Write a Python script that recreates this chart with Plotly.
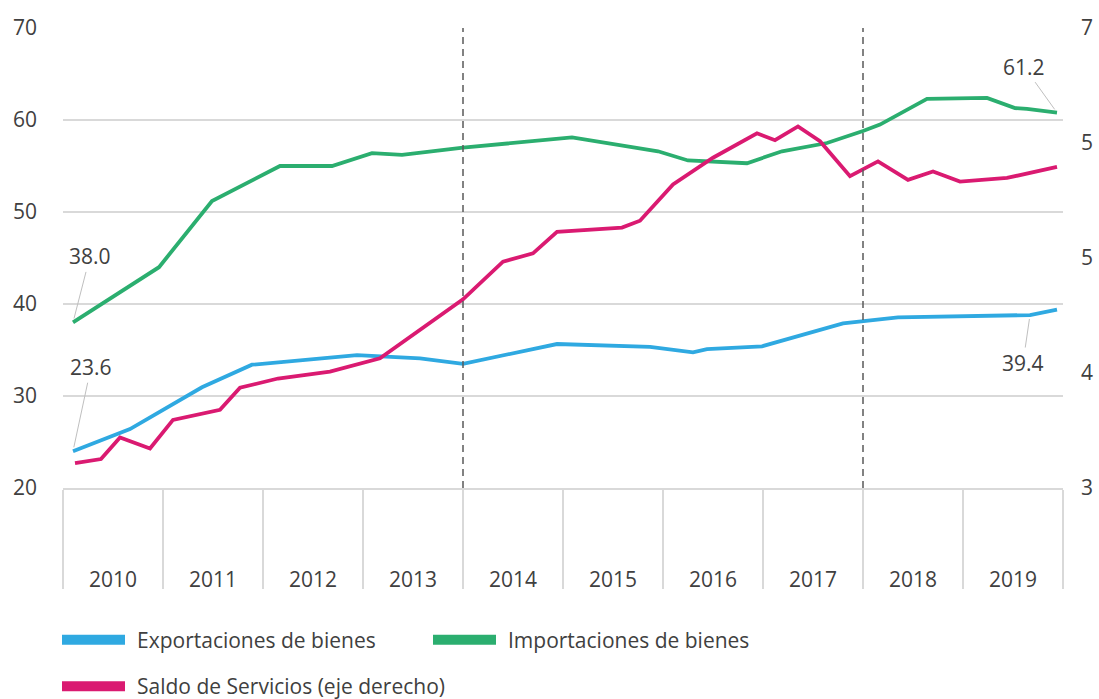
import plotly.graph_objects as go

# ---- data (x as fractional year) ----
imp_x = [2010.10, 2010.96, 2011.49, 2012.17, 2012.69, 2013.09, 2013.39, 2014.00, 2015.09, 2015.95,
         2016.25, 2016.84, 2017.19, 2017.64, 2018.00, 2018.17, 2018.64, 2019.24, 2019.52, 2019.64, 2019.94]
imp_y = [38.0, 44.0, 51.2, 55.0, 55.0, 56.4, 56.2, 57.0, 58.1, 56.6,
         55.6, 55.3, 56.6, 57.5, 58.8, 59.5, 62.3, 62.4, 61.3, 61.2, 60.8]

exp_x = [2010.10, 2010.67, 2011.39, 2011.89, 2012.94, 2013.57, 2014.00, 2014.94, 2015.87, 2016.30,
         2016.44, 2016.99, 2017.80, 2018.35, 2019.67, 2019.94]
exp_y = [24.0, 26.4, 30.95, 33.4, 34.45, 34.1, 33.5, 35.65, 35.35, 34.75,
         35.1, 35.4, 37.9, 38.55, 38.8, 39.4]

serv_x = [2010.12, 2010.38, 2010.57, 2010.87, 2011.10, 2011.57, 2011.77, 2012.15, 2012.67, 2013.17,
          2014.00, 2014.40, 2014.70, 2014.94, 2015.59, 2015.77, 2016.10, 2016.50, 2016.94, 2017.12,
          2017.35, 2017.57, 2017.87, 2018.15, 2018.45, 2018.70, 2018.97, 2019.44, 2019.94]
serv_y = [3.216, 3.252, 3.44, 3.344, 3.592, 3.68, 3.872, 3.952, 4.012, 4.128,
          4.64, 4.968, 5.04, 5.228, 5.264, 5.324, 5.64, 5.872, 6.084, 6.024,
          6.144, 6.016, 5.712, 5.84, 5.68, 5.752, 5.664, 5.696, 5.792]

years = [2010, 2011, 2012, 2013, 2014, 2015, 2016, 2017, 2018, 2019]
period_marks = [2014, 2018]

left_ticks = [20, 30, 40, 50, 60, 70]
right_ticks = [3, 4, 5, 6, 7]
right_ticktext = ["3", "4", "5", "5", "7"]

names = ["Exportaciones de bienes", "Importaciones de bienes", "Saldo de Servicios (eje derecho)"]
colors = ["#2FA9E1", "#2BAE6F", "#DA1A71"]

TXT = "#404040"
FONT = "Open Sans"
GRID = "#D9D9D9"
FS = 21

fig = go.Figure()
fig.add_trace(go.Scatter(x=exp_x, y=exp_y, mode="lines", name=names[0],
                         line=dict(color=colors[0], width=3.8), showlegend=False))
fig.add_trace(go.Scatter(x=imp_x, y=imp_y, mode="lines", name=names[1],
                         line=dict(color=colors[1], width=3.8), showlegend=False))
fig.add_trace(go.Scatter(x=serv_x, y=serv_y, mode="lines", name=names[2], yaxis="y2",
                         line=dict(color=colors[2], width=3.8), showlegend=False))

for yr in period_marks:
    fig.add_shape(type="line", x0=yr, x1=yr, xref="x", y0=0, y1=1, yref="paper",
                  line=dict(color="#595959", width=1.5, dash="7px,5px"), layer="above")

# data labels
labels = [
    (imp_x[0], imp_y[0], "38.0", 17, -66),
    (exp_x[0], exp_y[0], "23.6", 18, -84),
    (imp_x[-1], imp_y[-1], "61.2", -33, -46),
    (exp_x[-2], exp_y[-2], "39.4", -7, 48),
]
for x, y, t, ax, ay in labels:
    fig.add_annotation(x=x, y=y, xref="x", yref="y", text=t, showarrow=True, arrowhead=0,
                       arrowwidth=1, arrowcolor="#BFBFBF", ax=ax, ay=ay, standoff=4,
                       font=dict(family=FONT, size=FS, color=TXT))

# custom legend
leg = [(0, -0.001, -0.330), (1, 0.370, -0.330), (2, -0.001, -0.431)]
for i, lx, ly in leg:
    fig.add_shape(type="line", xref="paper", yref="paper", x0=lx, x1=lx + 0.063, y0=ly, y1=ly,
                  line=dict(color=colors[i], width=10))
    fig.add_annotation(xref="paper", yref="paper", x=lx + 0.073, y=ly, text=names[i],
                       showarrow=False, xanchor="left", yanchor="middle",
                       font=dict(family=FONT, size=FS, color=TXT))

fig.update_layout(
    width=1099, height=699,
    margin=dict(l=63, r=36, t=28, b=211),
    plot_bgcolor="white", paper_bgcolor="white",
    font=dict(family=FONT, size=FS, color=TXT),
    showlegend=False,
    xaxis=dict(range=[2010, 2020], showgrid=False, zeroline=False, automargin=False,
               showline=True, linecolor=GRID, linewidth=1.5,
               tickmode="array", tickvals=[y + 0.5 for y in years], ticktext=[str(y) for y in years],
               ticks="", ticklabelstandoff=72,
               minor=dict(tickmode="array", tickvals=years + [2020], ticks="outside",
                          ticklen=99, tickcolor=GRID, tickwidth=1.5, showgrid=False),
               tickfont=dict(family=FONT, size=FS, color=TXT)),
    yaxis=dict(range=[20, 70], tickvals=left_ticks, showgrid=True, gridcolor=GRID, gridwidth=1.5,
               zeroline=False, showline=False, ticks="", ticklabelstandoff=25, automargin=False,
               tickfont=dict(family=FONT, size=FS, color=TXT)),
    yaxis2=dict(range=[3, 7], overlaying="y", side="right", tickmode="array",
                tickvals=right_ticks, ticktext=right_ticktext, showgrid=False, automargin=False,
                zeroline=False, showline=False, ticks="", ticklabelstandoff=17,
                tickfont=dict(family=FONT, size=FS, color=TXT)),
)

fig.write_html("out.html", config={"displayModeBar": False},
               post_script="document.body.style.margin='0';document.body.style.overflow='hidden';")
